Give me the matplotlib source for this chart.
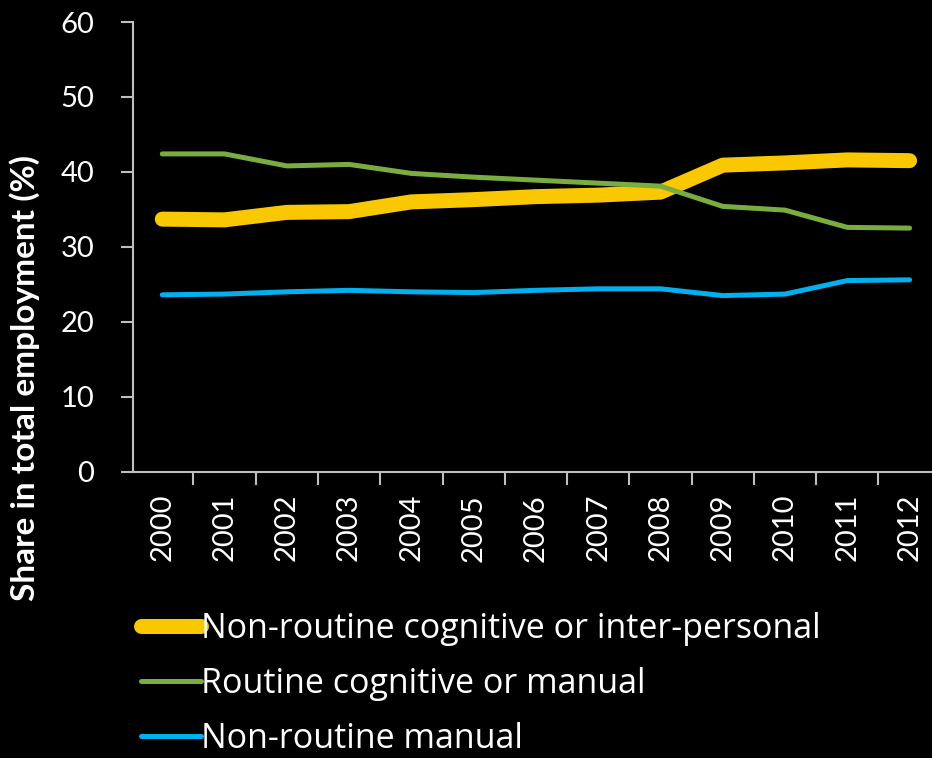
import matplotlib.pyplot as plt
from matplotlib.ticker import FixedLocator

years = ['2000', '2001', '2002', '2003', '2004', '2005', '2006',
         '2007', '2008', '2009', '2010', '2011', '2012']
nonroutine_cog = [33.7, 33.6, 34.6, 34.7, 36.0, 36.3, 36.7, 36.9, 37.3, 40.9, 41.2, 41.6, 41.5]
routine = [42.4, 42.4, 40.8, 41.0, 39.8, 39.3, 38.9, 38.5, 38.1, 35.4, 34.9, 32.6, 32.5]
nonroutine_man = [23.6, 23.7, 24.0, 24.2, 24.0, 23.9, 24.2, 24.4, 24.4, 23.5, 23.7, 25.5, 25.6]
labels = ['Non-routine cognitive or inter-personal', 'Routine cognitive or manual', 'Non-routine manual']

plt.rcParams['font.family'] = ['Lato', 'DejaVu Sans']
axis_col = '#BFBFBF'

fig = plt.figure(figsize=(9.32, 7.58), dpi=100, facecolor='black')
ax = fig.add_axes([133 / 932, 1 - 471.7 / 758, 1 - 133 / 932, (471.7 - 22) / 758])
ax.set_facecolor('black')

x = range(len(years))
ax.plot(x, nonroutine_cog, color='#FAC800', lw=10.8, solid_capstyle='round', solid_joinstyle='round', label=labels[0])
ax.plot(x, routine, color='#7AAD3F', lw=3.6, solid_capstyle='round', label=labels[1])
ax.plot(x, nonroutine_man, color='#00B0F0', lw=3.6, solid_capstyle='round', label=labels[2])

ax.set_xlim(-0.47, 12.36)
ax.set_ylim(0, 60)
ax.set_yticks(range(0, 61, 10))
ax.set_xticks(list(x))
ax.set_xticklabels(years, rotation=90)
ax.xaxis.set_minor_locator(FixedLocator([i - 0.5 for i in range(len(years))]))

for s in ['top', 'right']:
    ax.spines[s].set_visible(False)
for s in ['left', 'bottom']:
    ax.spines[s].set_color(axis_col)
    ax.spines[s].set_linewidth(1.5)

ax.tick_params(axis='y', colors=axis_col, labelcolor='white', labelsize=21, length=9, width=1.5, pad=19)
ax.tick_params(axis='x', which='major', length=0, labelcolor='white', labelsize=21, pad=16)
ax.tick_params(axis='x', which='minor', colors=axis_col, length=9, width=1.5)

fig.text(25 / 932, 1 - 378 / 758, 'Share in total employment (%)', rotation=90,
         ha='center', va='center', color='white', fontsize=24, fontweight='bold')

leg = ax.legend(loc='upper left', bbox_to_anchor=(141 / 932, 1 - 612 / 758),
                bbox_transform=fig.transFigure, frameon=False,
                prop={'family': 'Open Sans', 'size': 24.5},
                handlelength=1.75, handletextpad=0.0, labelspacing=0.62,
                borderpad=0, borderaxespad=0)
for t in leg.get_texts():
    t.set_color('white')

fig.savefig('out.png', dpi=100, facecolor='black')
